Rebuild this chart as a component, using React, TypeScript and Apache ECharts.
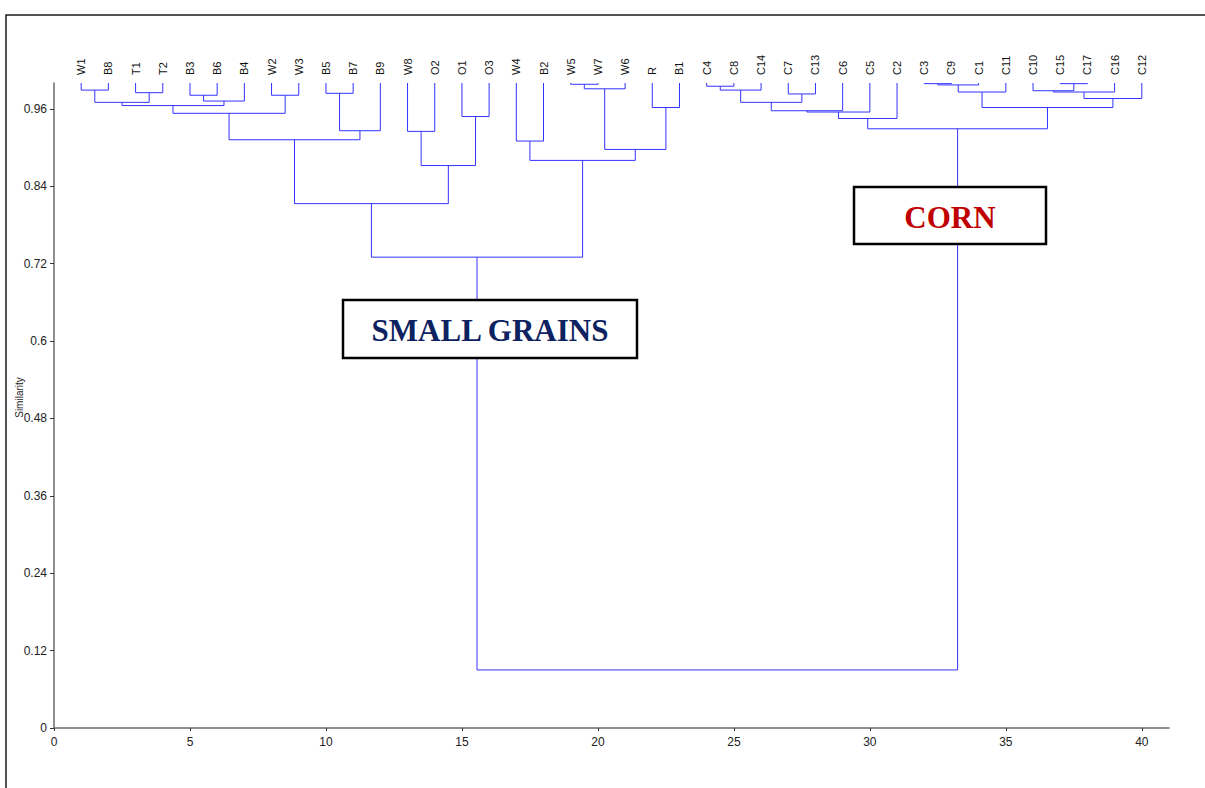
import React, { useEffect, useRef } from "react";
import * as echarts from "echarts";

// Leaf order along the x axis (positions 1..40)
const leaves = [
  "W1", "B8", "T1", "T2", "B3", "B6", "B4", "W2", "W3", "B5", "B7", "B9",
  "W8", "O2", "O1", "O3", "W4", "B2", "W5", "W7", "W6", "R", "B1",
  "C4", "C8", "C14", "C7", "C13", "C6", "C5", "C2", "C3", "C9", "C1", "C11",
  "C10", "C15", "C17", "C16", "C12",
];

// Agglomeration steps: [node id, left child, right child, similarity]
const smallGrainMerges: [string, string, string, number][] = [
  ["m1", "W1", "B8", 0.989],
  ["m2", "T1", "T2", 0.985],
  ["m3", "m1", "m2", 0.970],
  ["m4", "B3", "B6", 0.981],
  ["m5", "m4", "B4", 0.972],
  ["m6", "m3", "m5", 0.965],
  ["m7", "W2", "W3", 0.981],
  ["m8", "m6", "m7", 0.953],
  ["m9", "B5", "B7", 0.984],
  ["m10", "m9", "B9", 0.926],
  ["m11", "m8", "m10", 0.912],
  ["m12", "W8", "O2", 0.925],
  ["m13", "O1", "O3", 0.948],
  ["m14", "m12", "m13", 0.872],
  ["m15", "m11", "m14", 0.813],
  ["m16", "W4", "B2", 0.910],
  ["m17", "W5", "W7", 0.998],
  ["m18", "m17", "W6", 0.991],
  ["m19", "R", "B1", 0.962],
  ["m20", "m18", "m19", 0.897],
  ["m21", "m16", "m20", 0.880],
  ["m22", "m15", "m21", 0.730],
];

const cornMerges: [string, string, string, number][] = [
  ["n1", "C4", "C8", 0.995],
  ["n2", "n1", "C14", 0.989],
  ["n3", "C7", "C13", 0.983],
  ["n4", "n2", "n3", 0.970],
  ["n5", "n4", "C6", 0.957],
  ["n6", "n5", "C5", 0.955],
  ["n7", "n6", "C2", 0.945],
  ["n8", "C3", "C9", 0.999],
  ["n9", "n8", "C1", 0.997],
  ["n10", "n9", "C11", 0.986],
  ["n11", "C15", "C17", 0.999],
  ["n12", "C10", "n11", 0.988],
  ["n13", "n12", "C16", 0.986],
  ["n14", "n13", "C12", 0.976],
  ["n15", "n10", "n14", 0.962],
  ["n16", "n7", "n15", 0.929],
];

const rootMerge: [string, string, string, number][] = [["root", "m22", "n16", 0.09]];

const leafSimilarity = 1.0;
const xTicks = [0, 5, 10, 15, 20, 25, 30, 35, 40];
const yTicks = [0, 0.12, 0.24, 0.36, 0.48, 0.6, 0.72, 0.84, 0.96];

function buildSegments() {
  const nodes: Record<string, { x: number; h: number }> = {};
  leaves.forEach((name, i) => {
    nodes[name] = { x: i + 1, h: leafSimilarity };
  });
  const segs: number[][] = [];
  [...smallGrainMerges, ...cornMerges, ...rootMerge].forEach(([id, a, b, h]) => {
    const na = nodes[a];
    const nb = nodes[b];
    segs.push([na.x, na.h, nb.x, nb.h, h]);
    nodes[id] = { x: (na.x + nb.x) / 2, h };
  });
  return segs;
}

const LINE = "#3333ff";
const AXIS = "#6a6a6a";
const SANS = "Liberation Sans, Arial, sans-serif";
const SERIF = "Liberation Serif, Times New Roman, serif";

export default function App() {
  const ref = useRef<HTMLDivElement>(null);

  useEffect(() => {
    if (!ref.current) return;
    const chart = echarts.init(ref.current, null, { renderer: "svg" });
    const segments = buildSegments();
    const leafPositions = leaves.map((_, i) => i + 1);

    chart.setOption({
      animation: false,
      backgroundColor: "#ffffff",
      grid: {
        left: 54,
        top: 83,
        width: 1115,
        height: 645,
        containLabel: false,
        outerBoundsMode: "none",
      },
      xAxis: [
        {
          type: "value",
          min: 0,
          max: 41,
          position: "bottom",
          splitLine: { show: false },
          axisLine: { lineStyle: { color: AXIS, width: 1.5 } },
          axisTick: { length: 3, lineStyle: { color: "#333" }, customValues: xTicks },
          axisLabel: {
            customValues: xTicks,
            fontSize: 12,
            fontFamily: SANS,
            color: "#222",
            margin: 8,
          },
        },
        {
          type: "value",
          min: 0,
          max: 41,
          position: "top",
          splitLine: { show: false },
          axisLine: { show: false },
          axisTick: { show: false },
          axisLabel: {
            customValues: leafPositions,
            formatter: (v: number) => leaves[Math.round(v) - 1] ?? "",
            rotate: -90,
            fontSize: 11,
            fontFamily: SANS,
            color: "#111",
            margin: 8,
          },
        },
      ],
      yAxis: {
        type: "value",
        min: 0,
        max: 1.0,
        name: "Similarity",
        nameLocation: "middle",
        nameGap: 30,
        nameMoveOverlap: false,
        nameTextStyle: { fontSize: 10, fontFamily: SANS, color: "#222", padding: [0, 0, 0, 16] },
        splitLine: { show: false },
        axisLine: { show: true, lineStyle: { color: AXIS, width: 1.5 } },
        axisTick: { show: true, length: 4, lineStyle: { color: "#333" }, customValues: yTicks },
        axisLabel: {
          customValues: yTicks,
          fontSize: 12,
          fontFamily: SANS,
          color: "#222",
          margin: 7,
        },
      },
      series: [
        {
          type: "custom",
          xAxisIndex: 0,
          yAxisIndex: 0,
          z: 2,
          data: segments,
          encode: { x: [0, 2], y: [1, 3, 4] },
          renderItem: (_params: any, api: any) => {
            const xa = api.value(0);
            const ha = api.value(1);
            const xb = api.value(2);
            const hb = api.value(3);
            const h = api.value(4);
            const p1 = api.coord([xa, ha]);
            const p2 = api.coord([xa, h]);
            const p3 = api.coord([xb, h]);
            const p4 = api.coord([xb, hb]);
            return {
              type: "polyline",
              shape: { points: [p1, p2, p3, p4] },
              style: { stroke: LINE, fill: "none", lineWidth: 1 },
            };
          },
        },
      ],
      graphic: [
        {
          type: "rect",
          z: 0,
          shape: { x: 6, y: 15, width: 1300, height: 900 },
          style: { fill: "none", stroke: "#1a1a1a", lineWidth: 1.5 },
          silent: true,
        },
        {
          type: "rect",
          z: 100,
          shape: { x: 343, y: 300, width: 294, height: 58 },
          style: { fill: "#ffffff", stroke: "#000000", lineWidth: 2.5 },
        },
        {
          type: "text",
          z: 101,
          x: 490,
          y: 330,
          style: {
            text: "SMALL GRAINS",
            fill: "#0d2260",
            font: `bold 31px ${SERIF}`,
            textAlign: "center",
            textVerticalAlign: "middle",
          },
        },
        {
          type: "rect",
          z: 100,
          shape: { x: 854, y: 187, width: 192, height: 57 },
          style: { fill: "#ffffff", stroke: "#000000", lineWidth: 2.5 },
        },
        {
          type: "text",
          z: 101,
          x: 950,
          y: 217,
          style: {
            text: "CORN",
            fill: "#c00000",
            font: `bold 31px ${SERIF}`,
            textAlign: "center",
            textVerticalAlign: "middle",
          },
        },
      ],
    });

    return () => chart.dispose();
  }, []);

  return (
    <div
      ref={ref}
      style={{ position: "absolute", left: 0, top: 0, width: 1205, height: 788 }}
    />
  );
}
